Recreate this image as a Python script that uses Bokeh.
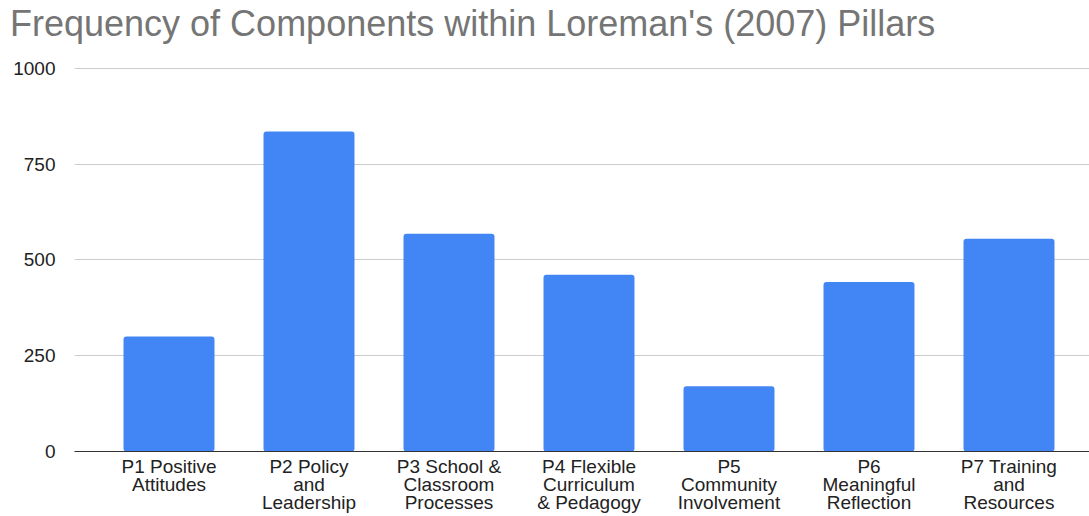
from bokeh.plotting import figure
from bokeh.models import Range1d, FixedTicker, ColumnDataSource, Div
from bokeh.layouts import column
from bokeh.embed import file_html
from bokeh.resources import INLINE

categories = [
    "P1 Positive\nAttitudes",
    "P2 Policy\nand\nLeadership",
    "P3 School &\nClassroom\nProcesses",
    "P4 Flexible\nCurriculum\n& Pedagogy",
    "P5\nCommunity\nInvolvement",
    "P6\nMeaningful\nReflection",
    "P7 Training\nand\nResources",
]
values = [300, 835, 568, 461, 170, 442, 555]
y_ticks = [0, 250, 500, 750, 1000]
title_text = "Frequency of Components within Loreman's (2007) Pillars"

xs = list(range(len(categories)))
src = ColumnDataSource(data=dict(x=xs, top=values))

title = Div(text=('<div style="font-family: \'Liberation Sans\'; font-size: 36px; '
                  'color: #757575; line-height: 1; padding: 6px 0 0 10px; '
                  'white-space: nowrap;">' + title_text + '</div>'),
            width=1089, height=56, margin=(0, 0, 0, 0))

p = figure(width=1089, height=460, output_backend="svg", toolbar_location=None,
           x_range=Range1d(-0.675, 6.575), y_range=Range1d(0, 1004.5),
           min_border_left=74, min_border_right=0, min_border_top=10, min_border_bottom=64,
           margin=(0, 0, 0, 0))
p.outline_line_color = None
p.background_fill_color = "white"
p.border_fill_color = "white"

p.vbar(x="x", top="top", bottom=0, width=0.65, source=src,
       fill_color="#4285F4", line_color=None, border_radius=3)

p.xgrid.grid_line_color = None
p.ygrid.grid_line_color = "#cccccc"
p.ygrid.grid_line_width = 1
p.ygrid.ticker = FixedTicker(ticks=y_ticks)

p.yaxis.ticker = FixedTicker(ticks=y_ticks)
p.yaxis.axis_line_color = None
p.yaxis.major_tick_line_color = None
p.yaxis.minor_tick_line_color = None
p.yaxis.major_label_standoff = 13
p.yaxis.major_label_text_font = "Liberation Sans"
p.yaxis.major_label_text_font_size = "19px"
p.yaxis.major_label_text_color = "#222222"

p.xaxis.ticker = FixedTicker(ticks=xs)
p.xaxis.major_label_overrides = {i: c for i, c in zip(xs, categories)}
p.xaxis.axis_line_color = "#333333"
p.xaxis.axis_line_width = 1
p.xaxis.major_tick_line_color = None
p.xaxis.minor_tick_line_color = None
p.xaxis.major_label_standoff = -2
p.xaxis.major_label_text_font = "Liberation Sans"
p.xaxis.major_label_text_font_size = "19px"
p.xaxis.major_label_text_line_height = 0.87
p.xaxis.major_label_text_color = "#222222"

layout = column(title, p, spacing=0)
open("out.html", "w").write(file_html(layout, INLINE))
